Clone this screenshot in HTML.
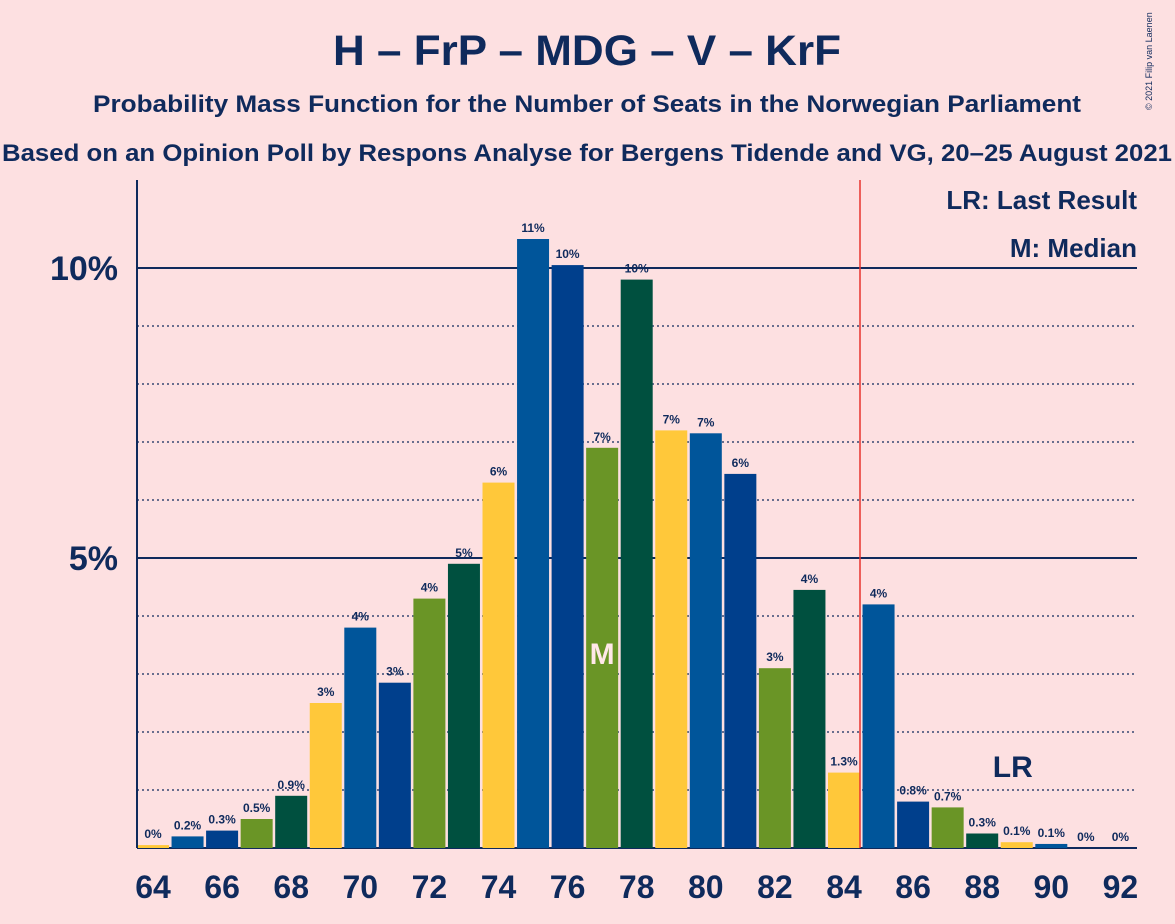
<!DOCTYPE html>
<html><head><meta charset="utf-8"><style>
body{margin:0;background:#fde0e1;}
svg{display:block;font-family:"Liberation Sans",sans-serif;}
</style></head><body>
<svg id="c" width="1175" height="924">
<rect width="1175" height="924" fill="#fde0e1"/>
<text x="587" y="65" text-anchor="middle" font-size="43" font-weight="bold" fill="#0f2a5c" textLength="508" lengthAdjust="spacingAndGlyphs">H – FrP – MDG – V – KrF</text>
<text x="587" y="112" text-anchor="middle" font-size="24" font-weight="bold" fill="#0f2a5c" textLength="988" lengthAdjust="spacingAndGlyphs">Probability Mass Function for the Number of Seats in the Norwegian Parliament</text>
<text x="587" y="161" text-anchor="middle" font-size="24" font-weight="bold" fill="#0f2a5c" textLength="1170" lengthAdjust="spacingAndGlyphs">Based on an Opinion Poll by Respons Analyse for Bergens Tidende and VG, 20–25 August 2021</text>
<text x="1152" y="110" font-size="9" fill="#0f2a5c" transform="rotate(-90 1152 110)">© 2021 Filip van Laenen</text>
<g id="grid"></g>
<g id="bars"></g>
<line x1="137" y1="180" x2="137" y2="848" stroke="#0f2a5c" stroke-width="2"/>
<line x1="860" y1="180" x2="860" y2="848" stroke="#e8322e" stroke-width="1.5"/>
<text x="1137" y="209" text-anchor="end" font-size="26" font-weight="bold" fill="#0f2a5c">LR: Last Result</text>
<text x="1137" y="257" text-anchor="end" font-size="26" font-weight="bold" fill="#0f2a5c">M: Median</text>
<g id="xt"></g>
</svg>
<script>
const seats=[64,65,66,67,68,69,70,71,72,73,74,75,76,77,78,79,80,81,82,83,84,85,86,87,88,89,90,91,92];
const probs=[0.05,0.2,0.3,0.5,0.9,2.5,3.8,2.85,4.3,4.9,6.3,10.5,10.05,6.9,9.8,7.2,7.15,6.45,3.1,4.45,1.3,4.2,0.8,0.7,0.25,0.1,0.07,0,0];
const labels=["0%","0.2%","0.3%","0.5%","0.9%","3%","4%","3%","4%","5%","6%","11%","10%","7%","10%","7%","7%","6%","3%","4%","1.3%","4%","0.8%","0.7%","0.3%","0.1%","0.1%","0%","0%"];
const yTicks=[5,10];
const xTickLabels=[64,66,68,70,72,74,76,78,80,82,84,86,88,90,92];
const medianSeat=77, lastResult=89;
const colors=["#ffc83a","#00559a","#003f8c","#6a9526","#00503f"];
const NS="http://www.w3.org/2000/svg";
const x=s=>153+(s-64)*34.55;
const y=p=>848-p*58;
function mk(tag,attrs,parent,text){const e=document.createElementNS(NS,tag);for(const k in attrs)e.setAttribute(k,attrs[k]);if(text!==undefined)e.textContent=text;parent.appendChild(e);return e;}
const grid=document.getElementById('grid');
for(let p=1;p<=10;p++){
 const solid=yTicks.includes(p);
 const l=mk('line',{x1:137,x2:1137,y1:y(p),y2:y(p),stroke:'#0f2a5c','stroke-width':solid?2:1.2,'stroke-dasharray':solid?'':'2,3'},grid);
 
 
}
mk('line',{x1:137,x2:1137,y1:848,y2:848,stroke:'#0f2a5c','stroke-width':2},grid);
yTicks.forEach(t=>{const e=mk('text',{x:118,y:y(t)+12,'text-anchor':'end','font-size':34,'font-weight':'bold',fill:'#0f2a5c'},grid,t+'%');
 
 });
const bars=document.getElementById('bars');
seats.forEach((s,i)=>{
 const p=probs[i];
 if(p>0){const r=mk('rect',{x:x(s)-16,y:y(p),width:32,height:848-y(p),fill:colors[i%5]},bars);
 
 }
 const t=mk('text',{x:x(s),y:y(p)-7,'text-anchor':'middle','font-size':12,'font-weight':'bold',fill:'#0f2a5c'},bars,labels[i]);
 
 
 if(s===medianSeat){const m=mk('text',{x:x(s),y:664,'text-anchor':'middle','font-size':30,'font-weight':'bold',fill:'#ffe8e8'},bars,'M');
 
 }
 if(s===lastResult){const m=mk('text',{x:x(s)-4,y:777,'text-anchor':'middle','font-size':30,'font-weight':'bold',fill:'#0f2a5c'},bars,'LR');
 
 }
});
const xt=document.getElementById('xt');
xTickLabels.forEach(s=>{const e=mk('text',{x:x(s),y:898,'text-anchor':'middle','font-size':32,'font-weight':'bold',fill:'#0f2a5c'},xt,s);
 
 });
</script>
</body></html>
